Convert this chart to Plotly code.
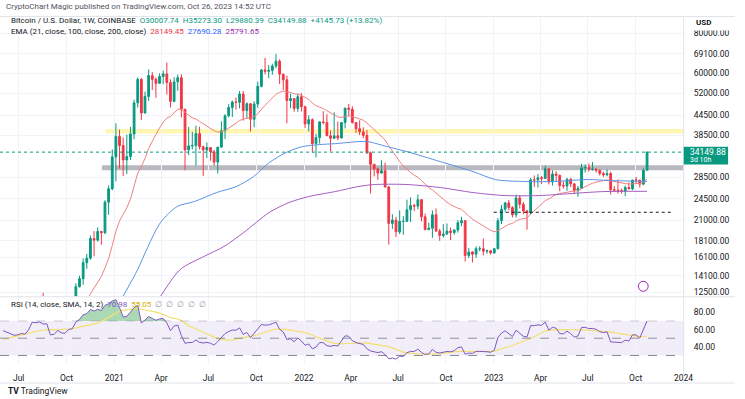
import math
import pandas as pd
import plotly.graph_objects as go

# ---------------- data (weekly BTC/USD, COINBASE) ----------------
first_week = "2020-06-01"
opens = [9450, 9750, 9470, 9300, 9000, 9070, 9300, 9210, 9950, 11750, 11680, 11900, 11650, 11700, 10250, 10330, 11080, 10740, 10670, 11370, 11500, 13030, 13800, 15480, 15980, 18400, 18180, 19360, 19170, 23870, 26270,
         33000, 38200, 35800, 32300, 33100, 38900, 48600, 57500, 45200, 50900, 59100, 57500, 55900, 58700, 59800, 56200, 49100, 56500, 58200, 46400, 34700, 35700, 35800, 39000, 35500, 34700, 35300, 34250, 31800, 35400, 39800, 44300, 47000, 48900, 48800, 51750, 46000, 48300, 43200, 48200, 54700, 61500, 60900, 61300, 63300, 65500, 59700, 57300, 49400, 50100, 46700, 50800,
         47300, 41800, 43100, 36300, 37900, 42400, 42200, 38400, 37700, 38400, 37800, 42200, 46800, 46400, 42200, 40400, 39500, 38500, 34000, 31300, 30300, 29400, 29900, 26600, 20500, 21000, 19300, 20800, 20800, 22600, 23300, 23200, 24300, 21500, 19600, 19800, 21800, 19400, 18800, 19000, 19400, 19200, 19550, 20600, 20900, 16300, 16700, 16450, 17100, 17100, 16800, 16850,
         16600, 17100, 20900, 22700, 23750, 22950, 21800, 24600, 23500, 22400, 22100, 28000, 27990, 28450, 28300, 30300, 27600, 29200, 28900, 26900, 26800, 28100, 27200, 25900, 26350, 30500, 30600, 30200, 30250, 30000, 29300, 29050, 29300, 26100, 26000, 25900, 25850, 26500, 26250, 27970, 27950, 27150, 30007.74]
highs = [10430, 9990, 9600, 9790, 9330, 9490, 9390, 10130, 12000, 11900, 12090, 12470, 11800, 12090, 10590, 11180, 11100, 10950, 11490, 11720, 13350, 14100, 15960, 16480, 18800, 19400, 19920, 19420, 24200, 26900, 34800,
         41950, 40100, 37900, 38700, 40900, 49700, 58300, 58000, 52650, 61700, 60600, 58400, 60000, 61200, 64850, 57500, 58400, 59500, 59600, 46600, 40900, 39500, 41300, 41000, 35750, 36600, 35400, 34700, 35450, 42600, 44800, 48100, 49400, 50500, 52900, 52900, 48800, 48350, 49200, 56600, 62000, 67000, 63700, 64300, 69000, 66400, 59900, 59100, 51900, 50200, 51900, 52100,
         47600, 44500, 43500, 38900, 42600, 45800, 44800, 39900, 45400, 42500, 42400, 46900, 48200, 47400, 42400, 42900, 40800, 40000, 34300, 31400, 30600, 32200, 31700, 26800, 21900, 21500, 22500, 21600, 24300, 24700, 23600, 25200, 24400, 22000, 20600, 22500, 22800, 19700, 20400, 20500, 19900, 19700, 21000, 21500, 21000, 17200, 16800, 17400, 17400, 18400, 17000, 16900,
         17200, 21300, 23400, 23800, 24250, 23200, 25200, 25100, 23900, 22600, 28400, 28900, 29200, 28800, 31000, 30500, 30000, 29800, 29100, 27700, 28400, 28400, 27400, 26800, 31400, 31300, 31500, 31800, 30400, 30100, 29700, 30200, 29700, 26800, 28100, 26300, 26900, 27500, 28000, 28600, 28000, 30400, 34300]
lows = [9270, 9100, 9230, 8830, 8930, 9060, 9000, 9140, 9880, 10930, 11100, 11500, 11120, 9830, 9880, 10200, 10140, 10380, 10530, 11200, 11410, 12950, 13200, 14800, 15800, 16200, 18000, 17600, 19000, 21800, 26000,
        27700, 30400, 28800, 29200, 32300, 37400, 47000, 43000, 45000, 49300, 53300, 50400, 55800, 55500, 51600, 47000, 48800, 53000, 43800, 30000, 33400, 34800, 31000, 34800, 28800, 32700, 32100, 31000, 29300, 35200, 37500, 43800, 43900, 46300, 46700, 42800, 43400, 39600, 40800, 46900, 54300, 59600, 58000, 59400, 62300, 55600, 53300, 42000, 46800, 45600, 45600, 45700,
        40600, 39600, 34000, 32900, 36300, 41700, 39500, 34300, 37500, 37200, 37600, 40500, 44200, 41900, 39200, 38600, 37700, 33700, 25400, 28700, 28000, 29300, 26550, 17600, 19700, 18600, 19000, 18900, 20750, 20700, 22400, 22700, 20800, 19550, 19550, 18500, 19300, 18100, 18500, 18900, 18200, 18900, 19200, 20100, 15600, 16000, 15500, 16000, 16800, 16300, 16500, 16400,
        16500, 17050, 20400, 22300, 22500, 21400, 21400, 22800, 21900, 19600, 21900, 26600, 26500, 27200, 28200, 27100, 26900, 27700, 25800, 26300, 25900, 26600, 25300, 24800, 26250, 29500, 29700, 29900, 29500, 28900, 28600, 28700, 25200, 25800, 25400, 25400, 24900, 26200, 26000, 27200, 26500, 26950, 29880.39]
closes = [9750, 9470, 9300, 9000, 9070, 9300, 9210, 9950, 11750, 11680, 11900, 11650, 11700, 10250, 10330, 11080, 10740, 10670, 11370, 11500, 13030, 13800, 15480, 15980, 18400, 18180, 19360, 19170, 23870, 26270, 33000,
          38200, 35800, 32300, 33100, 38900, 48600, 57500, 45200, 50900, 59100, 57500, 55900, 58700, 59800, 56200, 49100, 56500, 58200, 46400, 34700, 35700, 35800, 39000, 35500, 34700, 35300, 34250, 31800, 35400, 39800, 44300, 47000, 48900, 48800, 51750, 46000, 48300, 43200, 48200, 54700, 61500, 60900, 61300, 63300, 65500, 59700, 57300, 49400, 50100, 46700, 50800, 47300,
          41800, 43100, 36300, 37900, 42400, 42200, 38400, 37700, 38400, 37800, 42200, 46800, 46400, 42200, 40400, 39500, 38500, 34000, 31300, 30300, 29400, 29900, 26600, 20500, 21000, 19300, 20800, 20800, 22600, 23300, 23200, 24300, 21500, 19600, 19800, 21800, 19400, 18800, 19000, 19400, 19200, 19550, 20600, 20900, 16300, 16700, 16450, 17100, 17100, 16800, 16850, 16600,
          17100, 20900, 22700, 23750, 22950, 21800, 24600, 23500, 22400, 22100, 28000, 27990, 28450, 28300, 30300, 27600, 29200, 28900, 26900, 26800, 28100, 27200, 25900, 26350, 30500, 30600, 30200, 30250, 30000, 29300, 29050, 29300, 26100, 26000, 25900, 25850, 26500, 26250, 27970, 27950, 27150, 30004.15, 34149.88]
# earlier weekly closes (Jan 2019 - May 2020), used only to warm up the indicators
warmup_closes = [3510, 3540, 3530, 3410, 3660, 3880, 3750, 3810, 3910, 4030, 3980, 4100, 5180, 5080, 5300, 5270, 5770, 6980, 8000, 8700, 8730, 8000, 8980, 10850, 10800, 11450, 10200, 10340, 9520, 11800, 11380, 10300, 10140, 10380, 10400, 10300, 9990, 8050, 7870, 8300, 8230, 9550, 9200, 9050, 8500, 7050, 7400, 7520, 7060, 7510, 7390,
                 7760, 8900, 8700, 8600, 9340, 10150, 9900, 9660, 8530, 8040, 5360, 5830, 5880, 6790, 6900, 7120, 7700, 8900, 8720, 9670, 8720, 9450]

# EMA 100 / EMA 200
ema100_dates = ["2021-01-18", "2021-02-15", "2021-03-06", "2021-03-31", "2021-05-02", "2021-06-04", "2021-07-17", "2021-08-24", "2021-09-26", "2021-10-26", "2021-11-27", "2021-12-29", "2022-01-29", "2022-03-02", "2022-04-15", "2022-05-04", "2022-06-10", "2022-07-18", "2022-09-20", "2022-11-22", "2023-01-04", "2023-02-25", "2023-04-28", "2023-07-02", "2023-08-09", "2023-10-23"]
ema100_vals = [12180, 14750, 17265, 20640, 23145, 23975, 25580, 26700, 28670, 31680, 34030, 35520, 36030, 36290, 36810, 36810, 35520, 34270, 31910, 29720, 28070, 27680, 27680, 28070, 27870, 27690.28]
ema200_dates = ["2021-03-31", "2021-05-08", "2021-06-23", "2021-07-31", "2021-09-07", "2021-10-26", "2021-12-03", "2022-01-10", "2022-03-02", "2022-04-15", "2022-05-17", "2022-07-18", "2022-09-20", "2022-11-22", "2023-01-23", "2023-03-29", "2023-05-30", "2023-08-01", "2023-10-23"]
ema200_vals = [12168, 14750, 16195, 17380, 19215, 22165, 23800, 24850, 25750, 26690, 27080, 27080, 26500, 25570, 25020, 25020, 25390, 25750, 25791.65]

# horizontal zones / levels drawn on the chart
yellow_zone = (39000, 40300, "2020-12-15")
gray_zone = (30000, 31100, "2020-12-08")
support_level = (22200, "2023-01-01", "2023-12-12")

price_ticks = [12500, 14100, 16100, 18100, 21000, 24500, 28500, 38500, 44500, 52000, 60000, 69100, 80000]
rsi_ticks = [40, 60, 80]
x_tick_dates = ["2020-07-01", "2020-10-01", "2021-01-01", "2021-04-01", "2021-07-01", "2021-10-01", "2022-01-01", "2022-04-01", "2022-07-01", "2022-10-01", "2023-01-01", "2023-04-01", "2023-07-01", "2023-10-01", "2024-01-01"]
x_tick_text = ["Jul", "Oct", "2021", "Apr", "Jul", "Oct", "2022", "Apr", "Jul", "Oct", "2023", "Apr", "Jul", "Oct", "2024"]

# ---------------- indicators ----------------
dates = pd.date_range(first_week, periods=len(closes), freq="7D")
allc = warmup_closes + closes
n0 = len(warmup_closes)

alpha = 2 / 22
e = allc[0]
ema21_all = []
for c in allc:
    e = alpha * c + (1 - alpha) * e
    ema21_all.append(e)
ema21 = ema21_all[n0:]

gains = [max(allc[i] - allc[i - 1], 0) for i in range(1, len(allc))]
losses = [max(allc[i - 1] - allc[i], 0) for i in range(1, len(allc))]
ag = sum(gains[:14]) / 14
al = sum(losses[:14]) / 14
rsi_all = [None] * 14
rsi_all.append(100 - 100 / (1 + ag / al) if al else 100)
for i in range(14, len(gains)):
    ag = (ag * 13 + gains[i]) / 14
    al = (al * 13 + losses[i]) / 14
    rsi_all.append(100 - 100 / (1 + ag / al) if al else 100)
rsi_sma_all = [None] * len(rsi_all)
for i in range(len(rsi_all)):
    win = rsi_all[max(0, i - 13): i + 1]
    if len(win) == 14 and None not in win:
        rsi_sma_all[i] = sum(win) / 14
rsi = rsi_all[n0:]
rsi_sma = rsi_sma_all[n0:]

# ---------------- figure ----------------
W, H = 745, 399
UP, DOWN = "#089981", "#f23645"
FONT = "Roboto"
XR = ["2020-05-26", "2024-01-01 12:00"]
XD = [0, 693 / W]


def py(px):
    return 1 - px / H


fig = go.Figure()
fig.add_trace(go.Candlestick(
    x=dates, open=opens, high=highs, low=lows, close=closes,
    increasing=dict(line=dict(color=UP, width=1), fillcolor=UP),
    decreasing=dict(line=dict(color=DOWN, width=1), fillcolor=DOWN),
    whiskerwidth=0, showlegend=False, hoverinfo="skip", xaxis="x", yaxis="y"))
fig.add_trace(go.Scatter(x=dates, y=ema21, mode="lines", line=dict(color="#f08080", width=1),
                         showlegend=False, hoverinfo="skip", xaxis="x", yaxis="y"))
fig.add_trace(go.Scatter(x=ema100_dates, y=ema100_vals, mode="lines", line=dict(color="#5b93e6", width=1, shape="spline", smoothing=0.8),
                         showlegend=False, hoverinfo="skip", xaxis="x", yaxis="y"))
fig.add_trace(go.Scatter(x=ema200_dates, y=ema200_vals, mode="lines", line=dict(color="#a45cc2", width=1, shape="spline", smoothing=0.8),
                         showlegend=False, hoverinfo="skip", xaxis="x", yaxis="y"))

# RSI pane
fig.add_trace(go.Scatter(x=dates, y=[70] * len(dates), mode="lines", line=dict(width=0),
                         showlegend=False, hoverinfo="skip", xaxis="x2", yaxis="y2"))
fig.add_trace(go.Scatter(x=dates, y=[max(v, 70) if v is not None else 70 for v in rsi], mode="lines", line=dict(width=0),
                         fill="tonexty", fillcolor="rgba(70,170,90,0.45)",
                         showlegend=False, hoverinfo="skip", xaxis="x2", yaxis="y2"))
fig.add_trace(go.Scatter(x=dates, y=rsi_sma, mode="lines", line=dict(color="#f3df70", width=1.2),
                         showlegend=False, hoverinfo="skip", xaxis="x2", yaxis="y2"))
fig.add_trace(go.Scatter(x=dates, y=rsi, mode="lines", line=dict(color="#7e57c2", width=1),
                         showlegend=False, hoverinfo="skip", xaxis="x2", yaxis="y2"))

grid = "#f0f3fa"
fig.update_layout(
    width=W, height=H, margin=dict(l=0, r=0, t=0, b=0),
    paper_bgcolor="white", plot_bgcolor="white",
    font=dict(family=FONT, size=9, color="#131722"),
    xaxis=dict(domain=XD, range=XR, type="date", anchor="y", showticklabels=False,
               tickvals=x_tick_dates, showgrid=True, gridcolor=grid, zeroline=False,
               rangeslider=dict(visible=False), fixedrange=True),
    xaxis2=dict(domain=XD, range=XR, type="date", anchor="y2", matches="x",
                tickvals=x_tick_dates, ticktext=x_tick_text, tickfont=dict(size=8.5, color="#131722"),
                showgrid=True, gridcolor=grid, zeroline=False, ticks="", ticklen=0, ticklabelstandoff=7),
    yaxis=dict(domain=[py(297), py(17)], type="log",
               range=[math.log10(12168), math.log10(89900)], side="right", anchor="x",
               tickvals=price_ticks, ticktext=[f"{v:.2f}" for v in price_ticks],
               tickfont=dict(size=8.5, color="#131722"), showgrid=True, gridcolor=grid,
               zeroline=False, ticks="", ticklen=0, ticklabelstandoff=9),
    yaxis2=dict(domain=[py(365), py(298)], range=[20, 97.5], side="right", anchor="x2",
                tickvals=rsi_ticks, ticktext=[f"{v:.2f}" for v in rsi_ticks],
                tickfont=dict(size=8.5, color="#131722"), showgrid=False,
                zeroline=False, ticks="", ticklen=0, ticklabelstandoff=9),
)

shapes = []
# zones
shapes.append(dict(type="rect", xref="x", yref="y", x0=yellow_zone[2], x1=XR[1], y0=yellow_zone[0], y1=yellow_zone[1],
                   fillcolor="rgba(255,240,100,0.5)", line=dict(width=0), layer="below"))
shapes.append(dict(type="rect", xref="x", yref="y", x0=gray_zone[2], x1=XR[1], y0=gray_zone[0], y1=gray_zone[1],
                   fillcolor="rgba(160,162,168,0.75)", line=dict(width=0), layer="below"))
shapes.append(dict(type="line", xref="x", yref="y", x0=support_level[1], x1=support_level[2], y0=support_level[0], y1=support_level[0],
                   line=dict(color="#131722", width=1, dash="dot")))
shapes.append(dict(type="line", xref="paper", yref="y", x0=0, x1=XD[1], y0=closes[-1], y1=closes[-1],
                   line=dict(color=UP, width=1, dash="dot")))
# RSI bands
shapes.append(dict(type="rect", xref="paper", yref="y2", x0=0, x1=XD[1], y0=30, y1=70,
                   fillcolor="rgba(126,87,194,0.1)", line=dict(width=0), layer="below"))
for lv, op in [(70, 0.35), (50, 0.8), (30, 0.9)]:
    shapes.append(dict(type="line", xref="paper", yref="y2", x0=0, x1=XD[1], y0=lv, y1=lv,
                       line=dict(color="#787b86", width=1, dash="dash"), opacity=op))
# frame lines
for ypx in [16.5, 297.5, 384]:
    shapes.append(dict(type="line", xref="paper", yref="paper", x0=0, x1=1, y0=py(ypx), y1=py(ypx),
                       line=dict(color="#e0e3eb", width=1)))
shapes.append(dict(type="line", xref="paper", yref="paper", x0=XD[1], x1=XD[1], y0=py(384), y1=py(16.5),
                   line=dict(color="#e0e3eb", width=1)))
# cover top of axis under "USD"
shapes.append(dict(type="rect", xref="paper", yref="paper", x0=694 / W, x1=1, y0=py(30.5), y1=py(17),
                   fillcolor="white", line=dict(width=0), layer="above"))
# price tag
shapes.append(dict(type="rect", xref="paper", yref="paper", x0=693 / W, x1=738 / W, y0=py(165), y1=py(147),
                   fillcolor=UP, line=dict(width=0), layer="above"))
# icon circle
shapes.append(dict(type="circle", xref="paper", yref="paper", x0=647 / W, x1=657 / W, y0=py(292), y1=py(282),
                   line=dict(color="#9c27b0", width=1)))
fig.update_layout(shapes=shapes)

ann = []


def text(xpx, ypx, s, size=8.5, color="#131722", xanchor="left"):
    ann.append(dict(x=xpx / W, y=py(ypx), xref="paper", yref="paper", text=s, showarrow=False,
                    xanchor=xanchor, yanchor="middle", font=dict(size=size, color=color, family=FONT)))


text(4, 7, "CryptoChart Magic published on TradingView.com, Oct 26, 2023 14:52 UTC", size=8, color="#50535e")
text(9, 21, "Bitcoin / U.S. Dollar, 1W, COINBASE  "
     f"<span style='color:{UP}'>O30007.74  H35273.30  L29880.39  C34149.88  +4145.73 (+13.82%)</span>", size=8)
text(9, 32, "EMA (21, close, 100, close, 200, close)  "
     "<span style='color:#f23645'>28149.45</span>  <span style='color:#2962ff'>27690.28</span>  "
     "<span style='color:#9c27b0'>25791.65</span>", size=8)
text(9, 305, "RSI (14, close, SMA, 14, 2)  <span style='color:#7e57c2'>70.98</span>  "
     "<span style='color:#d4b000'>55.05</span>  <span style='color:#9598a1'>∅  ∅  ∅  ∅  ∅</span>", size=8)
text(703, 23, "<b>USD</b>", size=8)
text(697, 152, "34149.88", size=8.5, color="white")
text(697, 160.5, "3d 10h", size=7, color="white")
text(6, 392, "<b>TV</b> TradingView", size=8.5, color="#131722")
fig.update_layout(annotations=ann)

fig.write_html("out.html", config={"displayModeBar": False},
               post_script="document.body.style.margin='0';document.body.style.padding='0';")
